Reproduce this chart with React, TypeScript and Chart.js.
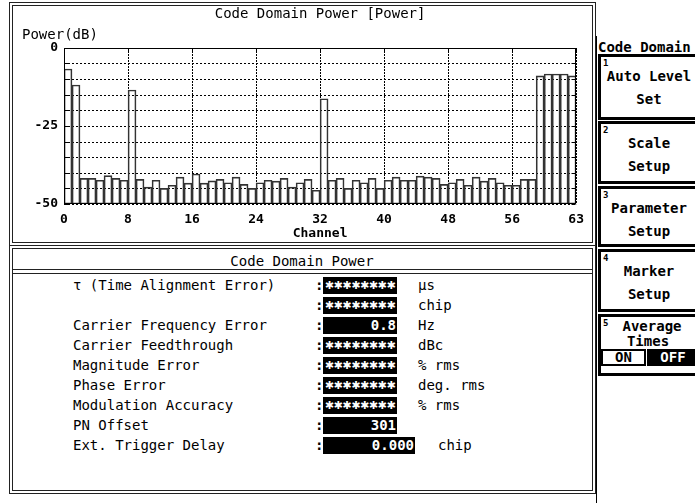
import React, { useEffect, useRef } from 'react';
import { Chart, registerables } from 'chart.js';

Chart.register(...registerables);

const MONO = "'DejaVu Sans Mono', 'Liberation Mono', monospace";

// ---- chart data ----
const CHART_TITLE = 'Code Domain Power [Power]';
const Y_AXIS_LABEL = 'Power(dB)';
const X_AXIS_LABEL = 'Channel';
const Y_MIN = -50;
const Y_MAX = 0;
const Y_GRID_STEP = 5;
const Y_LABELED_TICKS = [0, -25, -50];
const X_MIN = 0;
const X_MAX = 64;
const X_TICK_VALUES = [0, 8, 16, 24, 32, 40, 48, 56, 64];
const X_TICK_LABELS = ['0', '8', '16', '24', '32', '40', '48', '56', '63'];
const CHANNELS = [
  0, 1, 2, 3, 4, 5, 6, 7, 8, 9, 10, 11, 12, 13, 14, 15,
  16, 17, 18, 19, 20, 21, 22, 23, 24, 25, 26, 27, 28, 29, 30, 31,
  32, 33, 34, 35, 36, 37, 38, 39, 40, 41, 42, 43, 44, 45, 46, 47,
  48, 49, 50, 51, 52, 53, 54, 55, 56, 57, 58, 59, 60, 61, 62, 63,
];
const POWER_DB = [
  -6.8, -11.9, -41.8, -41.8, -42.4, -40.9, -41.8, -42.4,
  -13.5, -42.1, -44.6, -42.4, -45.0, -44.0, -41.4, -43.3,
  -40.4, -43.3, -42.6, -42.1, -43.2, -41.4, -43.7, -45.0,
  -43.2, -42.4, -42.7, -41.8, -44.6, -43.2, -42.1, -45.6,
  -16.3, -42.4, -41.8, -45.0, -42.4, -43.2, -41.8, -45.0,
  -42.4, -41.4, -42.4, -42.4, -41.1, -41.4, -41.8, -43.7,
  -43.2, -42.1, -44.0, -41.4, -42.7, -41.8, -43.2, -44.0,
  -44.0, -42.1, -42.1, -9.0, -8.4, -8.4, -8.4, -9.0,
];

// ---- table data ----
const TABLE_TITLE = 'Code Domain Power';
const TABLE_LABELS = [
  'τ (Time Alignment Error)',
  '',
  'Carrier Frequency Error',
  'Carrier Feedthrough',
  'Magnitude Error',
  'Phase Error',
  'Modulation Accuracy',
  'PN Offset',
  'Ext. Trigger Delay',
];
const MASK = '✱✱✱✱✱✱✱✱';
const TABLE_VALUES = [MASK, MASK, '0.8', MASK, MASK, MASK, MASK, '301', '0.000'];
const TABLE_UNITS = ['µs', 'chip', 'Hz', 'dBc', '% rms', 'deg. rms', '% rms', '', 'chip'];

// ---- softkeys ----
const MENU_TITLE = 'Code Domain';
const SOFTKEY_NUMBERS = ['1', '2', '3', '4', '5'];
const SOFTKEY_LINES = [
  ['Auto Level', 'Set'],
  ['Scale', 'Setup'],
  ['Parameter', 'Setup'],
  ['Marker', 'Setup'],
  ['Average', 'Times'],
];
const TOGGLE_LABELS = ['ON', 'OFF'];

type TProps = {
  x: number; y: number; children?: React.ReactNode; align?: 'left' | 'center' | 'right';
  size?: number; weight?: string | number; color?: string; style?: React.CSSProperties;
};
const T = ({ x, y, children, align = 'left', size = 14, weight = 'normal', color = '#000', style = {} }: TProps) => (
  <div
    style={{
      position: 'absolute', left: x, top: y,
      transform: `translate(${align === 'center' ? '-50%' : align === 'right' ? '-100%' : '0'}, -50%)`,
      fontFamily: MONO, fontSize: size, fontWeight: weight as any, color, whiteSpace: 'pre', lineHeight: 1, ...style,
    }}
  >{children}</div>
);

const Box = ({ l, t, w, h, style = {} }: { l: number; t: number; w: number; h: number; style?: React.CSSProperties }) => (
  <div style={{ position: 'absolute', left: l, top: t, width: w, height: h, boxSizing: 'border-box', ...style }} />
);

function xGridPixels(chart: any): number[] {
  const xs = chart.scales.x;
  const out: number[] = [];
  xs.ticks.forEach((_t: any, i: number) => {
    let p = Number(xs.getPixelForTick(i));
    if (!isFinite(p)) {
      const meta = chart.getDatasetMeta(0);
      const idx = Math.min(X_TICK_VALUES[i], CHANNELS.length - 1);
      const el: any = meta.data[idx];
      if (el) {
        const { x, width } = el.getProps(['x', 'width'], true);
        p = X_TICK_VALUES[i] >= CHANNELS.length ? x + width / 2 : x - width / 2;
      }
    }
    if (isFinite(p)) out.push(Math.round(p));
  });
  return out;
}

function PowerChart() {
  const ref = useRef<HTMLCanvasElement>(null);
  useEffect(() => {
    if (!ref.current) return;
    const gridPlugin = {
      id: 'dotGrid',
      beforeDatasetsDraw(chart: any) {
        const { ctx, chartArea: a, scales } = chart;
        const ys = scales.y;
        ctx.save();
        ctx.lineWidth = 1;
        ctx.strokeStyle = '#000';
        ctx.setLineDash([2, 2]);
        ys.ticks.forEach((t: any) => {
          const py = Math.round(ys.getPixelForValue(t.value)) + 0.5;
          ctx.beginPath();
          ctx.moveTo(a.left, py); ctx.lineTo(a.right, py);
          ctx.stroke();
        });
        ctx.setLineDash([]);
        ctx.fillStyle = '#000';
        const top = Math.round(a.top), bottom = Math.round(a.bottom);
        xGridPixels(chart).forEach((px) => {
          for (let yy = top; yy < bottom; yy += 3) ctx.fillRect(px, yy, 1, 2);
        });
        ctx.restore();
      },
      afterDatasetsDraw(chart: any) {
        const { ctx, chartArea: a, scales } = chart;
        ctx.save();
        ctx.setLineDash([]);
        ctx.strokeStyle = '#000';
        ctx.lineWidth = 1;
        const l = Math.round(a.left) + 0.5, r = Math.round(a.right) - 0.5;
        const t = Math.round(a.top) + 0.5, b = Math.round(a.bottom) - 0.5;
        ctx.strokeRect(l, t, r - l, b - t);
        const ys = scales.y;
        ctx.beginPath();
        ys.ticks.forEach((tk: any) => {
          const py = Math.round(ys.getPixelForValue(tk.value)) + 0.5;
          ctx.moveTo(l, py); ctx.lineTo(l + 4, py);
          ctx.moveTo(r - 4, py); ctx.lineTo(r, py);
        });
        ctx.stroke();
        ctx.fillStyle = '#000';
        xGridPixels(chart).forEach((px) => ctx.fillRect(px, Math.round(a.top), 1, 4));
        ctx.restore();
      },
    };
    const chart = new Chart(ref.current, {
      type: 'bar',
      data: {
        datasets: [{
          data: CHANNELS.map((c, i) => ({ x: c + 0.5, y: [Y_MIN, POWER_DB[i]] })) as any,
          backgroundColor: 'rgba(0,0,0,0)',
          borderColor: '#333',
          borderWidth: 1,
          borderSkipped: false,
          barPercentage: 1,
          categoryPercentage: 1,
        }],
      },
      options: {
        animation: false,
        responsive: false,
        devicePixelRatio: 1,
        layout: { padding: { left: 0, right: 7, top: 0, bottom: 0 } },
        plugins: {
          legend: { display: false },
          tooltip: { enabled: false },
          title: {
            display: true,
            text: CHART_TITLE,
            fullSize: false,
            color: '#000',
            font: { family: MONO, size: 14, weight: 'normal' },
            padding: { top: 1, bottom: 25 },
          },
        },
        scales: {
          x: {
            type: 'linear',
            min: X_MIN,
            max: X_MAX,
            offset: false,
            afterBuildTicks: (scale: any) => { scale.ticks = X_TICK_VALUES.map((v) => ({ value: v })); },
            afterFit: (scale: any) => { scale.height = 39; },
            ticks: {
              autoSkip: false,
              maxRotation: 0,
              padding: 8,
              color: '#000',
              font: { family: MONO, size: 13, weight: 'bold' },
              callback: (_v: any, idx: number) => X_TICK_LABELS[idx],
            },
            grid: { display: false, drawTicks: false },
            border: { display: false },
            title: {
              display: true,
              text: X_AXIS_LABEL,
              color: '#000',
              font: { family: MONO, size: 13, weight: 'bold' },
              padding: { top: 0, bottom: 2 },
            },
          },
          y: {
            type: 'linear',
            min: Y_MIN,
            max: Y_MAX,
            afterFit: (scale: any) => { scale.width = 52; },
            ticks: {
              stepSize: Y_GRID_STEP,
              autoSkip: false,
              padding: 6,
              color: '#000',
              font: { family: MONO, size: 13, weight: 'bold' },
              callback: (v: any) => (Y_LABELED_TICKS.includes(Number(v)) ? String(v) : ''),
            },
            grid: { display: false, drawTicks: false },
            border: { display: false },
          },
        },
      } as any,
      plugins: [gridPlugin],
    });
    return () => chart.destroy();
  }, []);
  return <canvas ref={ref} width={580} height={238} style={{ position: 'absolute', left: 12, top: 5, width: 580, height: 238 }} />;
}

export default function App() {
  const rowY0 = 285;
  const rowStep = 20;
  const softTops = [54, 121, 186, 249, 314];
  const softHeights = [66, 63, 61, 63, 62];
  return (
    <div style={{ position: 'fixed', left: 0, top: 0, width: 695, height: 503, background: '#fff', overflow: 'hidden', fontFamily: MONO }}>
      {/* chart panel */}
      <Box l={9} t={2} w={587} h={244} style={{ border: '4px double #222' }} />
      <PowerChart />
      <T x={22} y={34} size={14}>{Y_AXIS_LABEL}</T>

      {/* table panel */}
      <Box l={9} t={245} w={587} h={249} style={{ border: '4px double #222' }} />
      <Box l={12} t={269} w={581} h={5} style={{ borderTop: '1px solid #222', borderBottom: '1px solid #222' }} />
      <T x={302} y={261} align="center" size={14}>{TABLE_TITLE}</T>
      {TABLE_LABELS.map((lab, i) => {
        const y = rowY0 + i * rowStep;
        const wide = i === TABLE_LABELS.length - 1;
        const masked = TABLE_VALUES[i] === MASK;
        return (
          <React.Fragment key={i}>
            {lab ? <T x={73} y={y} size={14}>{lab}</T> : null}
            <T x={315} y={y} size={14} weight="bold">:</T>
            <div style={{
              position: 'absolute', left: 323, top: y - 8, width: wide ? 92 : 74, height: 17, background: '#000',
              color: '#fff', fontFamily: masked ? "'DejaVu Sans', sans-serif" : MONO, fontWeight: 'bold', fontSize: masked ? 11 : 14,
              textAlign: masked ? 'center' : 'right', lineHeight: '17px', whiteSpace: 'pre', overflow: 'hidden',
              letterSpacing: masked ? -0.4 : 0, boxSizing: 'border-box', paddingRight: masked ? 0 : 1,
            }}>{TABLE_VALUES[i]}</div>
            {TABLE_UNITS[i] ? <T x={wide ? 438 : 418} y={y} size={14}>{TABLE_UNITS[i]}</T> : null}
          </React.Fragment>
        );
      })}

      {/* softkey panel */}
      <Box l={596} t={36} w={1} h={467} style={{ background: '#000' }} />
      <T x={598} y={47} size={14} weight="bold">{MENU_TITLE}</T>
      {SOFTKEY_NUMBERS.map((n, i) => {
        const top = softTops[i];
        const h = softHeights[i];
        const isLast = i === SOFTKEY_NUMBERS.length - 1;
        return (
          <React.Fragment key={n}>
            <Box l={598} t={top} w={104} h={h} style={{ border: '3px solid #000' }} />
            <T x={603} y={top + 9} size={9} weight="bold">{n}</T>
            {isLast ? (
              <>
                <T x={652} y={top + 12} align="center" size={14} weight="bold">{SOFTKEY_LINES[i][0]}</T>
                <T x={648} y={top + 27} align="center" size={14} weight="bold">{SOFTKEY_LINES[i][1]}</T>
                <div style={{ position: 'absolute', left: 601, top: top + 35, width: 45, height: 17, border: '2px solid #000', boxSizing: 'border-box', background: '#fff', color: '#000', fontFamily: MONO, fontWeight: 'bold', fontSize: 14, textAlign: 'center', lineHeight: '13px' }}>{TOGGLE_LABELS[0]}</div>
                <div style={{ position: 'absolute', left: 647, top: top + 35, width: 52, height: 17, background: '#000', color: '#fff', fontFamily: MONO, fontWeight: 'bold', fontSize: 14, textAlign: 'center', lineHeight: '17px' }}>{TOGGLE_LABELS[1]}</div>
              </>
            ) : (
              <>
                <T x={649} y={top + 22} align="center" size={14} weight="bold">{SOFTKEY_LINES[i][0]}</T>
                <T x={649} y={top + 45} align="center" size={14} weight="bold">{SOFTKEY_LINES[i][1]}</T>
              </>
            )}
          </React.Fragment>
        );
      })}
    </div>
  );
}
